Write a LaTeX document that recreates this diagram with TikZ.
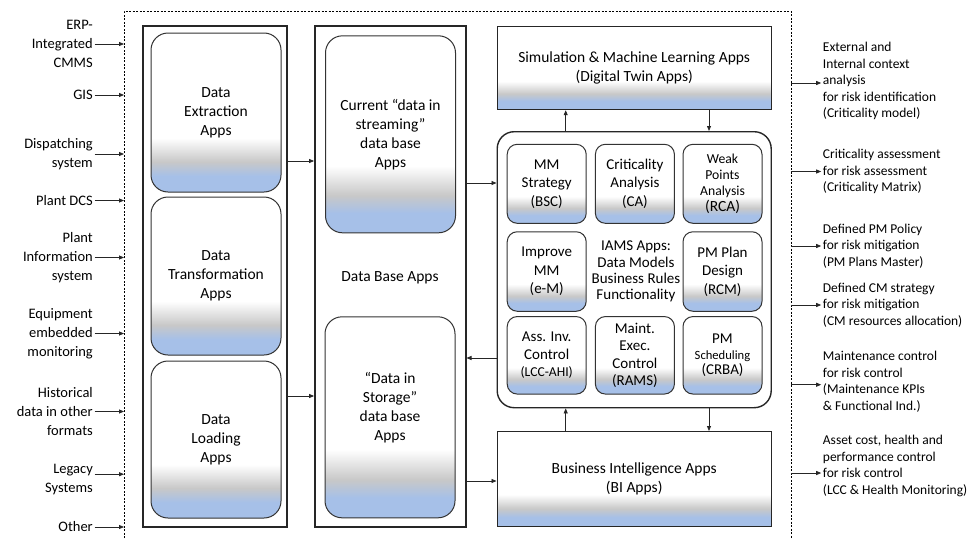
\documentclass[tikz,border=0pt]{standalone}
\usepackage{fontspec}
\setmainfont{Carlito}
\usetikzlibrary{arrows.meta}
\definecolor{appblue}{RGB}{166,192,232}
\definecolor{appgray}{RGB}{200,200,200}
% white on top, fading through grey into blue at the bottom edge
\pgfdeclareverticalshading{appshade}{100bp}{color(0bp)=(appblue); color(25bp)=(appblue); color(30bp)=(appblue); color(34.5bp)=(appgray); color(42bp)=(white); color(100bp)=(white)}
\tikzset{
  fnt/.style={font=\fontsize{15.5}{19}\selectfont},
  column/.style={draw=black!85, line width=1.4pt, fill=white, inner sep=0pt},
  appbox/.style={draw=black!80, line width=1pt, rounded corners=17pt, shading=appshade, align=center, inner sep=0pt, fnt},
  subbox/.style={draw=black!80, line width=1pt, rounded corners=10pt, shading=appshade, align=center, inner sep=0pt, minimum width=79pt, font=\fontsize{15}{18.5}\selectfont},
  widebox/.style={draw=black!85, line width=1.4pt, shading=appshade, align=center, inner sep=0pt, minimum width=274pt, fnt},
  arr/.style={-{Triangle[length=5pt,width=4pt]}, line width=0.8pt, black!85},
  inlbl/.style={anchor=east, align=right, inner xsep=1.5pt, inner ysep=0pt, font=\fontsize{14.5}{19}\selectfont},
  outlbl/.style={anchor=west, align=left, inner xsep=1.5pt, inner ysep=0pt, font=\fontsize{13.5}{16.5}\selectfont},
  boundary/.style={dash pattern=on 2pt off 1.5pt, line width=0.8pt},
}
\begin{document}
\begin{tikzpicture}[x=1pt,y=-1pt]
\path[use as bounding box, fill=white] (0,0) rectangle (968,538);

% system boundary (open at the bottom)
\coordinate (dl) at (124,0);
\coordinate (dr) at (791,0);
\draw[boundary] (124,538) -- (124,11) -- (791,11) -- (791,538);

% ETL column
\node[column, minimum width=144pt, minimum height=501pt] (colA) at (215,276.5) {};
\node[appbox, minimum width=130pt, minimum height=159pt] (extract) at (216,112.5) {Data\\Extraction\\Apps};
\node[appbox, minimum width=130pt, minimum height=158pt] (transform) at (216,276) {Data\\Transformation\\Apps};
\node[appbox, minimum width=130pt, minimum height=157pt] (load) at (216,439.5) {Data\\Loading\\Apps};

% data base column
\node[column, minimum width=151pt, minimum height=501pt] (colB) at (390.3,276.5) {};
\node[appbox, minimum width=130pt, minimum height=197pt] (stream) at (390.5,134.3) {Current “data in\\streaming”\\data base\\Apps};
\node[fnt] (dbapps) at (390,278) {Data Base Apps};
\node[appbox, minimum width=130pt, minimum height=201pt] (storage) at (390,417.3) {};
\node[fnt, align=center, inner sep=0pt] (storagetxt) at (390,407.7) {“Data in\\Storage”\\data base\\Apps};

% application column
\node[widebox, minimum height=83pt] (sim) at (634.2,68) {Simulation \& Machine Learning Apps\\(Digital Twin Apps)};
\node[draw=black!85, line width=1.4pt, rounded corners=17pt, fill=white, inner sep=0pt, minimum width=274pt, minimum height=276pt] (iams) at (634.2,269.7) {};
\node[widebox, minimum height=95pt] (bi) at (634.2,479.2) {Business Intelligence Apps\\(BI Apps)};

% IAMS modules
\node[subbox, minimum height=79pt] (bsc) at (546.7,183.8) {MM\\Strategy\\(BSC)};
\node[subbox, minimum height=79pt] (ca) at (634.9,183.8) {Criticality\\Analysis\\(CA)};
\node[subbox, minimum height=79pt, font=\fontsize{13.7}{16.2}\selectfont] (rca) at (722.5,183.8) {Weak\\Points\\Analysis\\{\fontsize{15.5}{16.2}\selectfont (RCA)}};
\node[subbox, minimum height=79.5pt] (em) at (546.7,271.5) {Improve\\MM\\(e-M)};
\node[font=\fontsize{15}{16.3}\selectfont, align=center, inner sep=0pt] (iamstxt) at (636,271.5) {IAMS Apps:\\Data Models\\Business Rules\\Functionality};
\node[subbox, minimum height=79.5pt] (rcm) at (722.5,271.5) {PM Plan\\Design\\(RCM)};
\node[subbox, minimum height=77.5pt, font=\fontsize{15}{17.2}\selectfont] (lcc) at (546.7,355.3) {Ass. Inv.\\Control\\{\fontsize{13.6}{17.2}\selectfont (LCC-AHI)}};
\node[subbox, minimum height=77.5pt, font=\fontsize{15}{17.4}\selectfont] (rams) at (634.9,355.3) {Maint.\\Exec.\\Control\\(RAMS)};
\node[subbox, minimum height=77.5pt, font=\fontsize{15}{15.5}\selectfont] (crba) at (722.5,355.3) {PM\\{\fontsize{12.6}{15.5}\selectfont Scheduling}\\(CRBA)};

% flows between columns
\coordinate (y1) at (0,161);
\coordinate (y2) at (0,396);
\coordinate (y3) at (0,183);
\coordinate (y4) at (0,358);
\coordinate (y5) at (0,481);
\coordinate (xu) at (565.7,0);
\coordinate (xd) at (709,0);
\draw[arr] (colA.east |- y1) -- (colB.west |- y1);
\draw[arr] (colA.east |- y2) -- (colB.west |- y2);
\draw[arr] (colB.east |- y3) -- (iams.west |- y3);
\draw[arr] (iams.west |- y4) -- (colB.east |- y4);
\draw[arr] (colB.east |- y5) -- (bi.west |- y5);
\draw[arr] (iams.north -| xu) -- (sim.south -| xu);
\draw[arr] (sim.south -| xd) -- (iams.north -| xd);
\draw[arr] (bi.north -| xu) -- (iams.south -| xu);
\draw[arr] (iams.south -| xd) -- (bi.north -| xd);

% data sources
\node[inlbl] (erp) at (94.5,44) {ERP-\\Integrated\\CMMS};
\node[inlbl] (gis) at (94.5,95) {GIS};
\node[inlbl] (disp) at (94.5,154) {Dispatching\\system};
\node[inlbl] (dcs) at (94.5,200.5) {Plant DCS};
\node[inlbl] (pis) at (94.5,257.5) {Plant\\Information\\system};
\node[inlbl] (equip) at (94.5,333.5) {Equipment\\embedded\\monitoring};
\node[inlbl] (hist) at (94.5,411.5) {Historical\\data in other\\formats};
\node[inlbl] (legacy) at (94.5,479.7) {Legacy\\Systems};
\node[inlbl] (other) at (94.5,527) {Other};
\coordinate (legacyout) at ([yshift=5.5pt]legacy.east);
\foreach \src in {erp,gis,disp,dcs,pis,equip,hist,other}
  \draw[arr] (\src.east) -- (\src.east -| dl);
\draw[arr] (legacyout) -- (legacyout -| dl);

% risk management outputs
\node[outlbl] (o1) at (821.2,81) {External and\\Internal context\\analysis\\for risk identification\\(Criticality model)};
\node[outlbl] (o2) at (821.2,171.5) {Criticality assessment\\for risk assessment\\(Criticality Matrix)};
\node[outlbl] (o3) at (821.2,246) {Defined PM Policy\\for risk mitigation\\(PM Plans Master)};
\node[outlbl] (o4) at (821.2,305) {Defined CM strategy\\for risk mitigation\\(CM resources allocation)};
\node[outlbl] (o5) at (821.2,381.7) {Maintenance control\\for risk control\\(Maintenance KPIs\\\& Functional Ind.)};
\node[outlbl] (o6) at (821.2,466) {Asset cost, health and\\performance control\\for risk control\\(LCC \& Health Monitoring)};
\coordinate (o1in) at ([yshift=-2pt]o1.west);
\coordinate (o5in) at ([yshift=-3pt]o5.west);
\coordinate (o6in) at ([yshift=-7pt]o6.west);
\foreach \dst in {o1in,o2,o3,o4,o5in,o6in}
  \draw[arr] (\dst -| dr) -- (\dst);
\end{tikzpicture}
\end{document}
